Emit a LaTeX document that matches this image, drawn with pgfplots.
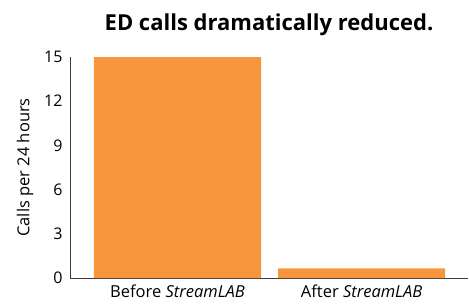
\documentclass[border=0pt]{standalone}
\usepackage{fontspec}
\setmainfont{Open Sans}
\usepackage{pgfplots}
\pgfplotsset{compat=1.18}
\definecolor{barorange}{RGB}{247,150,60}
\definecolor{axisgray}{RGB}{60,60,60}
\begin{document}
\begin{tikzpicture}[x=1pt,y=1pt]
\useasboundingbox (0,0) rectangle (469,306);
\begin{axis}[
  at={(70pt,28pt)}, anchor=south west,
  scale only axis, width=398pt, height=221pt,
  xmin=-0.584, xmax=1.578, ymin=0, ymax=15,
  axis x line*=bottom, axis y line*=left,
  axis line style={axisgray, line width=0.8pt, -},
  ytick={0,3,6,9,12,15},
  xtick={0,1},
  xticklabels={Before \textit{StreamLAB}, After \textit{StreamLAB}},
  major tick length=0pt,
  tick style={draw=none},
  yticklabel style={font=\fontsize{16}{18}\selectfont, text=black, xshift=-4pt},
  xticklabel style={font=\fontsize{16.5}{18}\selectfont, text=black, yshift=-3pt},
  /pgf/number format/assume math mode=true,
  ylabel={Calls per 24 hours},
  ylabel style={font=\fontsize{16.5}{18}\selectfont, yshift=4pt},
  title={\textbf{ED calls dramatically reduced.}},
  title style={font=\fontsize{22}{24}\selectfont, yshift=12pt},
  ybar, bar width=0.908, bar shift=0pt,
  clip=false,
]
\addplot[fill=barorange, draw=none] coordinates {(0,15) (1,0.65)};
\end{axis}
\end{tikzpicture}
\end{document}
